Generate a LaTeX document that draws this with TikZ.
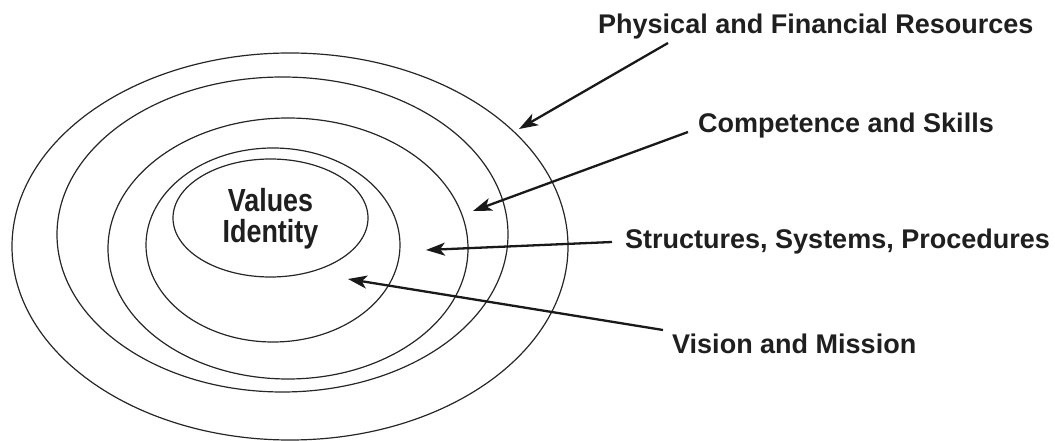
\documentclass[tikz,border=0pt]{standalone}
\usepackage{fontspec}
\setmainfont{Liberation Sans}
\newfontfamily\corefont{Liberation Sans}[FakeStretch=0.84]
\usetikzlibrary{arrows.meta,shapes.geometric}
\tikzset{
  ring/.style={draw=black!85, line width=1.2bp, ellipse, inner sep=0pt},
  lbl/.style={inner sep=0pt, font=\fontsize{27bp}{31bp}\selectfont\bfseries, text=black!88},
  pointer/.style={draw=black!90, line width=2.3bp, -{Stealth[length=19bp,width=13bp,inset=5bp]}},
}
\begin{document}
\begin{tikzpicture}[x=1bp,y=-1bp]
\useasboundingbox (0,0) rectangle (1055,441);
% rings
\node[ring, minimum width=556bp, minimum height=387bp] (r1) at (290,246.5) {};
\node[ring, minimum width=451bp, minimum height=315bp] (r2) at (282.5,234.5) {};
\node[ring, minimum width=360bp, minimum height=261bp] (r3) at (288,248.5) {};
\node[ring, minimum width=254bp, minimum height=194bp] (r4) at (273,245) {};
\node[ring, minimum width=195bp, minimum height=118bp] (r5) at (270.5,218) {};
% core text
\node[inner sep=0pt, align=center, font=\corefont\fontsize{32bp}{31bp}\selectfont\bfseries, text=black!88, anchor=base] (core) at (270.5,243) {Values\\Identity};
% labels
\node[lbl, anchor=base west] (phys) at (598,34) {Physical and Financial Resources};
\node[lbl, anchor=base west] (comp) at (698,133) {Competence and Skills};
\node[lbl, anchor=base west] (struct) at (625,249) {Structures, Systems, Procedures};
\node[lbl, anchor=base west] (vis) at (672,354) {Vision and Mission};
% arrow ends
\coordinate (s1) at (668,43);   \coordinate (t1) at (519,129);
\coordinate (s2) at (688,132);  \coordinate (t2) at (473,211);
\coordinate (s3) at (612,242);  \coordinate (t3) at (426,250);
\coordinate (s4) at (663,330);  \coordinate (t4) at (348,279);
\draw[pointer] (s1) -- (t1);
\draw[pointer] (s2) -- (t2);
\draw[pointer] (s3) -- (t3);
\draw[pointer] (s4) -- (t4);
\end{tikzpicture}
\end{document}
